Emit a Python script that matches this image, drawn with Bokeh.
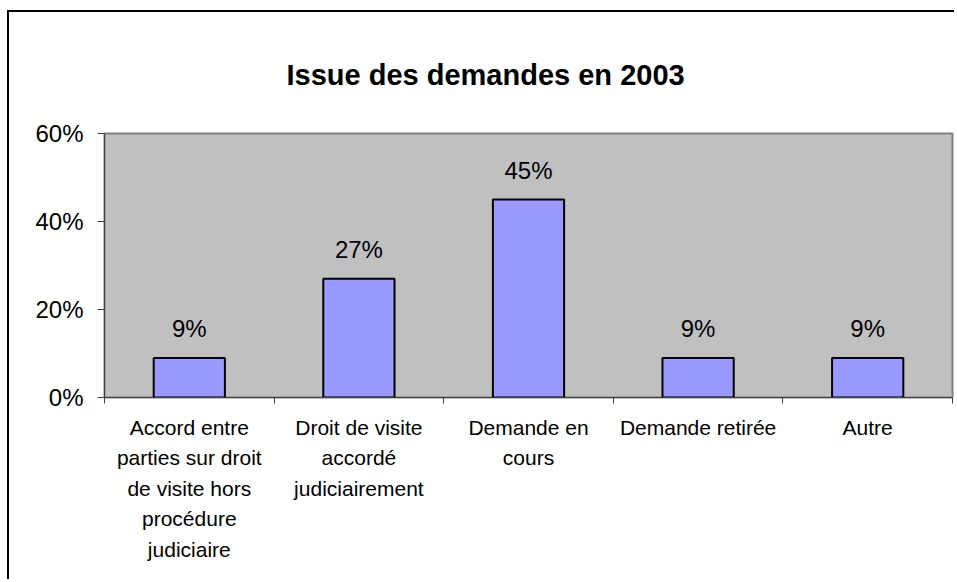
from bokeh.plotting import figure
from bokeh.models import (Range1d, LinearAxis, FixedTicker, PrintfTickFormatter,
                          ColumnDataSource, CustomJSTickFormatter, Title)
from bokeh.core.properties import value
from bokeh.embed import file_html
from bokeh.resources import INLINE

title = "Issue des demandes en 2003"
categories = [
    "Accord entre parties sur droit de visite hors procédure judiciaire",
    "Droit de visite accordé judiciairement",
    "Demande en cours",
    "Demande retirée",
    "Autre",
]
category_labels = [
    "Accord entre\nparties sur droit\nde visite hors\nprocédure\njudiciaire",
    "Droit de visite\naccordé\njudiciairement",
    "Demande en\ncours",
    "Demande retirée",
    "Autre",
]
values = [9, 27, 45, 9, 9]
y_ticks = [0, 20, 40, 60]

FONT = "Liberation Sans"
n = len(categories)
centers = [i + 0.5 for i in range(n)]
bounds = list(range(n + 1))

src = ColumnDataSource(dict(x=centers, cat=categories, val=values,
                            lab=[f"{v}%" for v in values]))

p = figure(width=947, height=569, x_range=Range1d(0, n),
           y_range=Range1d(0, y_ticks[-1]), output_backend="svg",
           toolbar_location=None, x_axis_location=None, y_axis_location="left",
           min_border_left=95, min_border_right=4, min_border_top=121,
           min_border_bottom=184)
p.title = None
p.styles = {"border-top": "2px solid black", "border-left": "2px solid black",
            "margin-top": "10px", "margin-left": "7px"}

p.background_fill_color = "#C0C0C0"
p.border_fill_color = "white"
p.outline_line_color = "#808080"
p.outline_line_width = 2
p.xgrid.visible = False
p.ygrid.visible = False

p.add_layout(Title(text=title, align="left", offset=182, standoff=86,
                   text_font=FONT, text_font_size="29px",
                   text_font_style="bold", text_color="black"), "above")

p.vbar(x="x", top="val", width=0.42, source=src, fill_color="#9999FF",
       line_color="black", line_width=2)
p.text(x="x", y="val", text="lab", source=src, y_offset=-29,
       text_align="center", text_baseline="alphabetic",
       text_font=value(FONT), text_font_size="24px", text_color="black")

# y axis
ya = p.yaxis[0]
ya.ticker = FixedTicker(ticks=y_ticks)
ya.formatter = PrintfTickFormatter(format="%d%%")
ya.major_label_text_font = FONT
ya.major_label_text_font_size = "24px"
ya.major_label_text_color = "black"
ya.major_tick_out = 7
ya.major_tick_in = 0
ya.minor_tick_line_color = None
ya.axis_line_color = "#404040"
ya.major_tick_line_color = "#404040"
ya.major_label_standoff = 14

# x axis: labels at category centres, ticks (minor) at category boundaries
xa = LinearAxis(ticker=FixedTicker(ticks=centers, minor_ticks=bounds))
xa.formatter = CustomJSTickFormatter(
    args=dict(labels=category_labels),
    code="return labels[Math.floor(tick)];")
xa.axis_line_color = "#404040"
xa.major_tick_line_color = None
xa.major_tick_out = 0
xa.major_tick_in = 0
xa.minor_tick_line_color = "#404040"
xa.minor_tick_out = 6
xa.minor_tick_in = 0
xa.major_label_standoff = 12
xa.major_label_text_font = FONT
xa.major_label_text_font_size = "21px"
xa.major_label_text_color = "black"
xa.major_label_text_line_height = 1.33
xa.major_label_orientation = "horizontal"
p.add_layout(xa, "below")

open("out.html", "w").write(file_html(p, INLINE))
